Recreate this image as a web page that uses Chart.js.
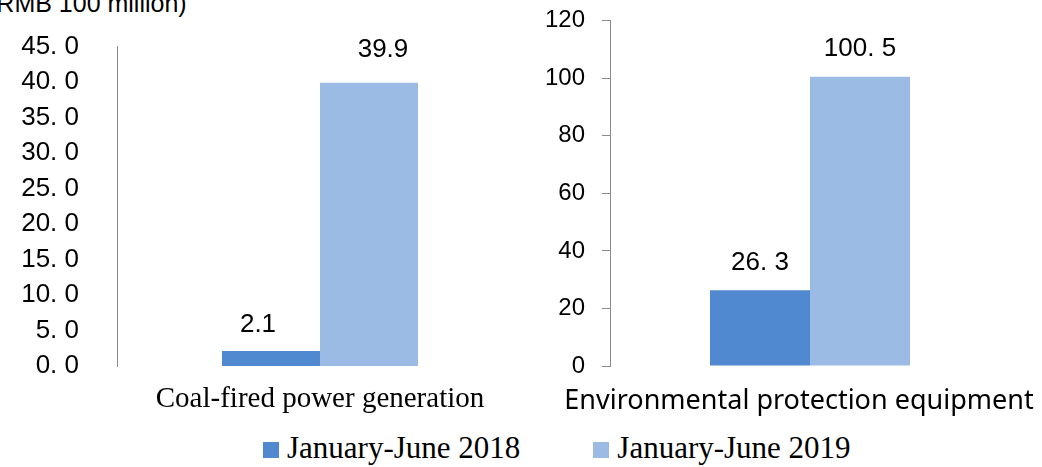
<!DOCTYPE html>
<html>
<head>
<meta charset="utf-8">
<script src="https://cdn.jsdelivr.net/npm/chart.js@4.4.1/dist/chart.umd.min.js"></script>
<style>
  body { margin: 0; background: #fff; width: 1042px; height: 467px; overflow: hidden; position: relative; font-family: "Liberation Sans", Arial, sans-serif; }
  #unit { position: absolute; left: -12px; top: -9px; font-size: 25px; line-height: 1; white-space: nowrap; color: #000; }
  #leftChart { position: absolute; left: 0; top: 0; }
  #rightChart { position: absolute; left: 520px; top: 0; }
  #legend { position: absolute; left: 263px; top: 432px; display: flex; gap: 73px; font-family: "Liberation Serif", "Times New Roman", serif; font-size: 31px; line-height: 31px; color: #000; }
  .item { display: flex; align-items: flex-start; white-space: nowrap; }
  .swatch { width: 16px; height: 16px; margin-top: 10px; margin-right: 8px; }
</style>
</head>
<body>
<div id="unit">(RMB 100 million)</div>
<canvas id="leftChart" width="530" height="430"></canvas>
<canvas id="rightChart" width="522" height="430"></canvas>
<div id="legend"></div>

<script>
// Data
const seriesNames = ['January-June 2018', 'January-June 2019'];
const seriesColors = ['#5089d0', '#9bbbe5'];

const leftCategories = ['Coal-fired power generation'];
const leftH1_2018 = [2.1];
const leftH1_2019 = [39.9];
const leftTicks = [0, 5, 10, 15, 20, 25, 30, 35, 40, 45];

const rightCategories = ['Environmental protection equipment'];
const rightH1_2018 = [26.3];
const rightH1_2019 = [100.5];
const rightTicks = [0, 20, 40, 60, 80, 100, 120];

// value labels above bars (shift = [dx, gap above bar top] per dataset)
function makeValueLabels(spaced, shifts) {
    return {
        id: 'valueLabels',
        afterDatasetsDraw(chart) {
            const ctx = chart.ctx;
            ctx.save();
            ctx.font = '26px "Liberation Sans", Arial, sans-serif';
            ctx.fillStyle = '#000';
            ctx.textAlign = 'center';
            ctx.textBaseline = 'alphabetic';
            chart.data.datasets.forEach((ds, i) => {
                chart.getDatasetMeta(i).data.forEach((bar, j) => {
                    let txt = String(ds.data[j]);
                    if (spaced) txt = txt.replace('.', '. ');
                    const sh = shifts[i];
                    ctx.fillText(txt, bar.x + sh[0], bar.y - sh[1]);
                });
            });
            ctx.restore();
        }
    };
}

function buildChart(canvasId, cfg) {
    return new Chart(document.getElementById(canvasId), {
        type: 'bar',
        data: {
            labels: cfg.categories,
            datasets: [
                { label: seriesNames[0], data: cfg.d2018, backgroundColor: seriesColors[0], borderWidth: 0 },
                { label: seriesNames[1], data: cfg.d2019, backgroundColor: seriesColors[1], borderWidth: 0 }
            ]
        },
        options: {
            responsive: false,
            animation: false,
            devicePixelRatio: 1,
            layout: { padding: cfg.padding },
            datasets: { bar: { categoryPercentage: cfg.catPct, barPercentage: 1 } },
            plugins: { legend: { display: false }, tooltip: { enabled: false } },
            scales: {
                x: {
                    grid: { display: false, drawTicks: false },
                    border: { display: false },
                    ticks: {
                        color: '#000',
                        font: cfg.xFont,
                        padding: cfg.xPad,
                        labelOffset: cfg.xOffset,
                        maxRotation: 0,
                        autoSkip: false
                    },
                    afterFit: s => { s.height = 64; s.paddingLeft = 0; s.paddingRight = 0; }
                },
                y: {
                    min: cfg.ticks[0],
                    max: cfg.ticks[cfg.ticks.length - 1],
                    afterBuildTicks: s => { s.ticks = cfg.ticks.map(v => ({ value: v })); },
                    grid: { display: cfg.tickMarks, drawOnChartArea: false, drawTicks: cfg.tickMarks, tickLength: 8, color: '#8c8c8c' },
                    border: { display: true, color: '#8c8c8c', width: 1 },
                    ticks: {
                        color: '#000',
                        font: { family: '"Liberation Sans", Arial, sans-serif', size: cfg.yFontSize },
                        padding: cfg.yPad,
                        autoSkip: false,
                        callback: cfg.yFormat
                    },
                    afterFit: s => { s.width = cfg.yWidth; s.paddingTop = 0; s.paddingBottom = 0; }
                }
            }
        },
        plugins: [makeValueLabels(cfg.spaced, cfg.shifts)]
    });
}

buildChart('leftChart', {
    categories: leftCategories, d2018: leftH1_2018, d2019: leftH1_2019, ticks: leftTicks,
    padding: { top: 46.5, right: 7, bottom: 0, left: 0 },
    catPct: 0.4828,
    xFont: { family: '"Liberation Serif", "Times New Roman", serif', size: 29 },
    xPad: 15.6, xOffset: 0,
    yFontSize: 26, yPad: 38, yWidth: 117, tickMarks: false,
    yFormat: v => v.toFixed(1).replace('.', '. '),
    spaced: false,
    shifts: [[-13, 19], [14, 26]]
});

buildChart('rightChart', {
    categories: rightCategories, d2018: rightH1_2018, d2019: rightH1_2019, ticks: rightTicks,
    padding: { top: 20.7, right: 32, bottom: 0, left: 0 },
    catPct: 0.5,
    xFont: { family: '"Noto Sans", sans-serif', size: 27 },
    xPad: 19.4, xOffset: -11,
    yFontSize: 24, yPad: 17, yWidth: 90, tickMarks: true,
    yFormat: v => String(v),
    spaced: true,
    shifts: [[0, 20], [0, 21]]
});

// legend
const legend = document.getElementById('legend');
seriesNames.forEach((name, i) => {
    const item = document.createElement('div');
    item.className = 'item';
    item.innerHTML = `<span class="swatch" style="background:${seriesColors[i]}"></span><span>${name}</span>`;
    legend.appendChild(item);
});
</script>
</body>
</html>
